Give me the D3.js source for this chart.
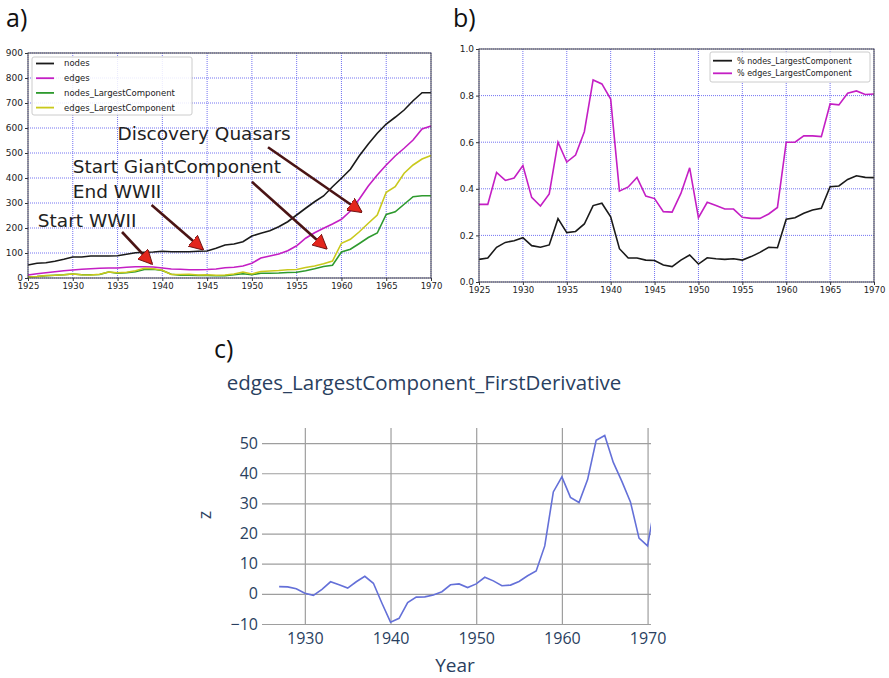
<!DOCTYPE html>
<html>
<head>
<meta charset="utf-8">
<script src="https://cdn.jsdelivr.net/npm/d3@7"></script>
<style>
  body { margin: 0; background: #fff; }
  svg { display: block; }
  .mpl text { font-family: "DejaVu Sans", sans-serif; fill: #222; }
  .ply text { font-family: "Open Sans", sans-serif; fill: #2a3f5f; }
</style>
</head>
<body>
<svg id="fig" width="889" height="678"></svg>
<script>
// ---- data ----
var years = d3.range(1925, 1971);

var nodes = [52,59,61,67,75,84,84,88,88,88,89,95,101,103,104,107,105,105,105,107,108,
  119,132,136,145,168,179,189,205,225,252,279,305,328,365,399,435,489,536,579,616,643,672,709,741,741];
var edges = [12,17,21,25,29,32,35,37,39,40,40,43,45,45,44,40,36,35,33,33,34,
  36,41,43,48,59,80,88,96,109,129,159,181,199,216,235,268,316,368,412,452,488,519,552,596,608];
var nodesLC = [5,6,9,11,13,16,13,13,14,24,19,21,25,34,35,30,15,11,11,10,10,
  9,9,13,17,13,19,19,20,22,23,29,37,46,51,104,115,138,162,180,254,265,295,325,329,329];
var edgesLC = [4,6,10,11,13,16,13,12,15,24,21,23,29,39,37,31,14,14,15,12,13,
  11,12,16,24,16,26,28,30,33,34,42,48,57,68,139,155,185,219,252,343,365,419,452,476,490];

var pctNodes = [0.097,0.103,0.149,0.17,0.177,0.19,0.156,0.149,0.159,0.272,0.212,0.217,0.249,0.328,0.338,0.28,0.143,0.103,0.103,0.094,0.092,
  0.073,0.066,0.094,0.116,0.077,0.104,0.1,0.097,0.1,0.094,0.109,0.127,0.149,0.147,0.269,0.276,0.295,0.309,0.316,0.409,0.412,0.44,0.456,0.449,0.448];
var pctEdges = [0.333,0.333,0.47,0.436,0.446,0.5,0.363,0.326,0.378,0.6,0.515,0.545,0.645,0.867,0.85,0.785,0.39,0.408,0.449,0.369,0.358,
  0.302,0.3,0.38,0.49,0.276,0.342,0.328,0.313,0.313,0.278,0.273,0.273,0.292,0.32,0.6,0.6,0.627,0.627,0.624,0.764,0.76,0.81,0.82,0.805,0.807];

var derivYears = d3.range(1927, 1972);
var derivVals = [2.4,2.3,1.7,0.2,-0.5,1.5,4.0,3.0,1.9,4.0,5.8,3.5,-3.1,-9.4,-8.1,-2.9,-1.1,-1.0,-0.4,0.7,
  3.0,3.3,2.1,3.3,5.5,4.3,2.7,2.9,4.1,6.0,7.6,15.9,33.8,38.8,32.0,30.3,37.9,50.9,52.5,43.6,37.3,30.5,18.5,15.9,32];

var seriesA = [
  {name: "nodes", values: nodes, color: "#1a1a1a"},
  {name: "edges", values: edges, color: "#c41fc4"},
  {name: "nodes_LargestComponent", values: nodesLC, color: "#2e9a2e"},
  {name: "edges_LargestComponent", values: edgesLC, color: "#c9c91c"}
];
var seriesB = [
  {name: "% nodes_LargestComponent", values: pctNodes, color: "#1a1a1a"},
  {name: "% edges_LargestComponent", values: pctEdges, color: "#c41fc4"}
];
var notes = [
  {text: "Start WWII", tx: 1926.1, ty: 228, x0: 1935.5, y0: 184, x1: 1938.8, y1: 58},
  {text: "End WWII", tx: 1930, ty: 344, x0: 1938.8, y0: 292, x1: 1944.5, y1: 115},
  {text: "Start GiantComponent", tx: 1930, ty: 444, x0: 1950, y0: 385, x1: 1958.3, y1: 119},
  {text: "Discovery Quasars", tx: 1935, ty: 576, x0: 1951.8, y0: 523, x1: 1962.2, y1: 265}
];

var svg = d3.select("#fig");

svg.append("defs").append("marker")
  .attr("id", "head").attr("viewBox", "0 0 10 10")
  .attr("refX", 9).attr("refY", 5)
  .attr("markerWidth", 5.6).attr("markerHeight", 5.6)
  .attr("markerUnits", "strokeWidth")
  .attr("orient", "auto")
  .append("path").attr("d", "M0,0L10,5L0,10Z")
  .attr("fill", "#e3261d").attr("stroke", "#6a1010").attr("stroke-width", 0.6);

// panel labels
svg.append("text").attr("x", 6).attr("y", 27).text("a)")
  .style("font-family", "Open Sans, sans-serif").style("font-size", "25px").attr("fill", "#111");
svg.append("text").attr("x", 453).attr("y", 27).text("b)")
  .style("font-family", "Open Sans, sans-serif").style("font-size", "25px").attr("fill", "#111");
svg.append("text").attr("x", 214).attr("y", 358).text("c)")
  .style("font-family", "Open Sans, sans-serif").style("font-size", "25px").attr("fill", "#111");

function mplPanel(xs, ys, yTicks, yFmt) {
  var g = svg.append("g").attr("class", "mpl");
  var x0 = xs.range()[0], x1 = xs.range()[1], yb = ys.range()[0], yt = ys.range()[1];
  var grid = g.append("g");
  d3.range(1925, 1971, 5).forEach(function(t) {
    grid.append("line").attr("x1", xs(t)).attr("x2", xs(t)).attr("y1", yb).attr("y2", yt);
  });
  yTicks.forEach(function(t) {
    grid.append("line").attr("x1", x0).attr("x2", x1).attr("y1", ys(t)).attr("y2", ys(t));
  });
  grid.selectAll("line").attr("stroke", "#5c5cf0").attr("stroke-width", 1)
    .attr("stroke-dasharray", "1,1").attr("opacity", 0.85);

  var ax = g.append("g").attr("transform", "translate(0," + yb + ")")
    .call(d3.axisBottom(xs).tickValues(d3.range(1925, 1971, 5)).tickFormat(d3.format("d")).tickSize(3).tickPadding(2));
  var ay = g.append("g").attr("transform", "translate(" + x0 + ",0)")
    .call(d3.axisLeft(ys).tickValues(yTicks).tickFormat(yFmt).tickSize(3).tickPadding(2));
  [ax, ay].forEach(function(a) {
    a.select(".domain").remove();
    a.selectAll("text").style("font-size", "8.5px").attr("fill", "#222");
    a.selectAll("line").attr("stroke", "#333");
  });
  ay.selectAll("text").style("font-size", "9px");
  return g;
}

// ---- panel a ----
var xA = d3.scaleLinear().domain([1925, 1970]).range([28, 431]);
var yA = d3.scaleLinear().domain([0, 900]).range([278, 53]);
var gA = mplPanel(xA, yA, d3.range(0, 901, 100), d3.format("d"));

var lineA = d3.line().x(function(d, i) { return xA(years[i]); }).y(function(d) { return yA(d); });
seriesA.forEach(function(s) {
  gA.append("path").attr("d", lineA(s.values)).attr("fill", "none")
    .attr("stroke", s.color).attr("stroke-width", 1.6);
});

notes.forEach(function(n) {
  gA.append("text").attr("x", xA(n.tx)).attr("y", yA(n.ty)).attr("dy", "0.35em")
    .text(n.text).style("font-size", "18.5px").attr("fill", "#333");
  gA.append("line").attr("x1", xA(n.x0)).attr("y1", yA(n.y0))
    .attr("x2", xA(n.x1)).attr("y2", yA(n.y1))
    .attr("stroke", "#4a1414").attr("stroke-width", 2.6)
    .attr("marker-end", "url(#head)");
});

gA.append("rect").attr("x", 28).attr("y", 53).attr("width", 403).attr("height", 225)
  .attr("fill", "none").attr("stroke", "#444").attr("stroke-width", 1);

var legA = gA.append("g");
legA.append("rect").attr("x", 32).attr("y", 57).attr("width", 160).attr("height", 58)
  .attr("rx", 2).attr("fill", "#fff").attr("fill-opacity", 0.85).attr("stroke", "#ccc");
seriesA.forEach(function(s, i) {
  var y = 63.5 + i * 14.7;
  legA.append("line").attr("x1", 36).attr("x2", 54).attr("y1", y).attr("y2", y)
    .attr("stroke", s.color).attr("stroke-width", 1.8);
  legA.append("text").attr("x", 64).attr("y", y).attr("dy", "0.35em").text(s.name)
    .style("font-size", "8.5px");
});

// ---- panel b ----
var xB = d3.scaleLinear().domain([1925, 1970]).range([479, 874]);
var yB = d3.scaleLinear().domain([0, 1]).range([282, 49]);
var gB = mplPanel(xB, yB, d3.range(0, 1.01, 0.2), d3.format(".1f"));

var lineB = d3.line().x(function(d, i) { return xB(years[i]); }).y(function(d) { return yB(d); });
seriesB.forEach(function(s) {
  gB.append("path").attr("d", lineB(s.values)).attr("fill", "none")
    .attr("stroke", s.color).attr("stroke-width", 1.6);
});
gB.append("rect").attr("x", 479).attr("y", 49).attr("width", 395).attr("height", 233)
  .attr("fill", "none").attr("stroke", "#444").attr("stroke-width", 1);

var legB = gB.append("g");
legB.append("rect").attr("x", 710).attr("y", 52).attr("width", 160).attr("height", 30)
  .attr("rx", 2).attr("fill", "#fff").attr("fill-opacity", 0.85).attr("stroke", "#ccc");
seriesB.forEach(function(s, i) {
  var y = 60.7 + i * 12.6;
  legB.append("line").attr("x1", 713).attr("x2", 732).attr("y1", y).attr("y2", y)
    .attr("stroke", s.color).attr("stroke-width", 1.8);
  legB.append("text").attr("x", 737).attr("y", y).attr("dy", "0.35em").text(s.name)
    .style("font-size", "8px");
});

// ---- panel c ----
var xC = d3.scaleLinear().domain([1925, 1970.4]).range([262, 651]);
var yC = d3.scaleLinear().domain([-10, 55]).range([624, 428]);
var gC = svg.append("g").attr("class", "ply");

gC.append("clipPath").attr("id", "clipC").append("rect")
  .attr("x", 262).attr("y", 428).attr("width", 389).attr("height", 196);

var gx = gC.append("g").attr("transform", "translate(0,624)")
  .call(d3.axisBottom(xC).tickValues(d3.range(1930, 1971, 10)).tickFormat(d3.format("d"))
    .tickSize(196).tickSizeOuter(0).tickPadding(0));
gx.selectAll(".tick line").attr("transform", "translate(0,-196)");
gx.selectAll("text").attr("y", 9);

var gy = gC.append("g").attr("transform", "translate(262,0)")
  .call(d3.axisLeft(yC).tickValues(d3.range(-10, 51, 10)).tickSize(-389).tickPadding(4)
    .tickFormat(function(d) { return d < 0 ? "\u2212" + Math.abs(d) : d; }));

[gx, gy].forEach(function(a) {
  a.select(".domain").remove();
  a.selectAll(".tick line").attr("stroke", "#9e9e9e").attr("stroke-width", 1.2);
  a.selectAll("text").style("font-size", "16px").attr("fill", "#2a3f5f");
});

var lineC = d3.line().x(function(d, i) { return xC(derivYears[i]); }).y(function(d) { return yC(d); });
gC.append("path").attr("d", lineC(derivVals)).attr("clip-path", "url(#clipC)")
  .attr("fill", "none").attr("stroke", "#6470d8").attr("stroke-width", 1.6);

gC.append("text").attr("x", 424).attr("y", 390).attr("text-anchor", "middle")
  .text("edges_LargestComponent_FirstDerivative").style("font-size", "20.5px");
gC.append("text").attr("x", 455).attr("y", 672).attr("text-anchor", "middle")
  .text("Year").style("font-size", "19px");
gC.append("text").attr("transform", "translate(211,515) rotate(-90)").attr("text-anchor", "middle")
  .text("z").style("font-size", "18px");
</script>
</body>
</html>
